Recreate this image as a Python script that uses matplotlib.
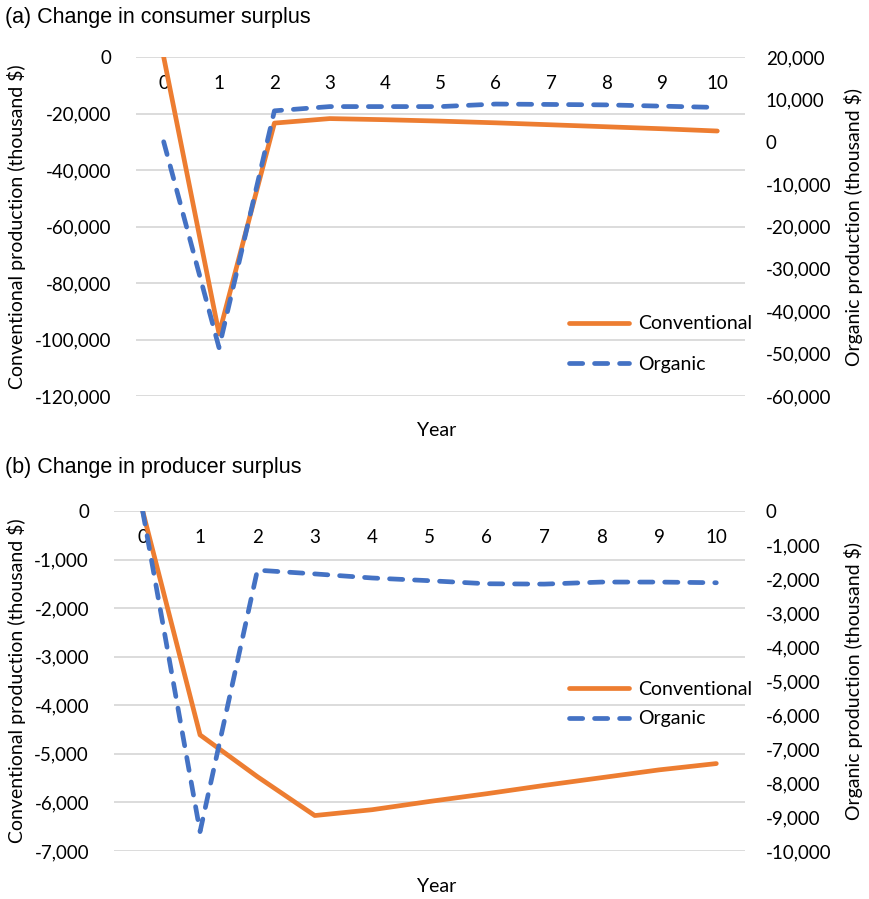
import matplotlib.pyplot as plt
import matplotlib.ticker as mticker

years = list(range(11))

# (a) consumer surplus, thousand $
cs_conventional = [0, -98000, -23400, -21800, -22200, -22700, -23300, -24000, -24700, -25400, -26200]
cs_organic = [0, -48600, 7300, 8300, 8300, 8300, 8900, 8800, 8700, 8400, 8100]

# (b) producer surplus, thousand $
ps_conventional = [0, -4610, -5470, -6270, -6150, -5980, -5820, -5650, -5490, -5330, -5200]
ps_organic = [0, -9430, -1740, -1850, -1970, -2050, -2140, -2150, -2090, -2090, -2110]

orange = '#ED7D31'
blue = '#4472C4'
grid_c = '#D9D9D9'
txt_c = '#000000'

plt.rcParams['font.family'] = ['Lato', 'DejaVu Sans']

fig = plt.figure(figsize=(8.69, 8.99), dpi=100)
W, H = 869, 899


def panel(x0, x1, y0, y1, conv, org, lims_l, step_l, lims_r, step_r, title, ty, leg_spacing, leg_y):
    ax = fig.add_axes([x0 / W, 1 - y1 / H, (x1 - x0) / W, (y1 - y0) / H])
    ax2 = ax.twinx()

    ax.plot(years, conv, color=orange, lw=3.4, solid_capstyle='round', label='Conventional', zorder=3)
    ax2.plot(years, org, color=blue, lw=3.4, linestyle=(0, (2.8, 2.5)), dash_capstyle='round',
             label='Organic', zorder=3)

    ax.set_xlim(-0.5, 10.5)
    ax.set_ylim(*lims_l)
    ax2.set_ylim(*lims_r)
    ax.yaxis.set_major_locator(mticker.MultipleLocator(step_l))
    ax2.yaxis.set_major_locator(mticker.MultipleLocator(step_r))
    fmt = mticker.FuncFormatter(lambda v, p: f'{v:,.0f}')
    ax.yaxis.set_major_formatter(fmt)
    ax2.yaxis.set_major_formatter(fmt)

    ax.grid(axis='y', color=grid_c, lw=1.3)
    ax.set_axisbelow(True)
    for a in (ax, ax2):
        for s in a.spines.values():
            s.set_visible(False)
    # category axis crosses the value axis at 0
    ax.spines['bottom'].set_position(('data', 0))
    ax.set_xticks(years)
    ax.tick_params(axis='x', length=0, pad=13, labelsize=13.5, colors=txt_c)
    ax.tick_params(axis='y', length=0, pad=18, labelsize=13.5, colors=txt_c)
    ax2.tick_params(axis='y', length=0, pad=15, labelsize=13.5, colors=txt_c)

    ax.set_ylabel('Conventional production (thousand $)', fontsize=14, labelpad=6)
    ax2.set_ylabel('Organic production (thousand $)', fontsize=14, labelpad=9)
    ax.text((437 - x0) / (x1 - x0), -35 / (y1 - y0), 'Year', transform=ax.transAxes,
            ha='center', va='center', fontsize=14)

    h1, l1 = ax.get_legend_handles_labels()
    h2, l2 = ax2.get_legend_handles_labels()
    ax2.legend(h1 + h2, l1 + l2, frameon=False, fontsize=14, handlelength=3.1,
               labelspacing=leg_spacing, handletextpad=0.5,
               loc='center left', bbox_to_anchor=((551 - x0) / (x1 - x0), 1 - (leg_y - y0) / (y1 - y0)))

    fig.text(5 / W, 1 - ty / H, title, fontsize=15.5, family='Liberation Sans', va='center', ha='left')
    return ax


panel(136, 745, 57, 396, cs_conventional, cs_organic, (-120000, 0), 20000, (-60000, 20000), 10000,
      '(a) Change in consumer surplus', 17, 1.2, 344)
panel(114, 745, 511, 851, ps_conventional, ps_organic, (-7000, 0), 1000, (-10000, 0), 1000,
      '(b) Change in producer surplus', 468, 0.65, 704)

fig.savefig('out.png', dpi=100)
